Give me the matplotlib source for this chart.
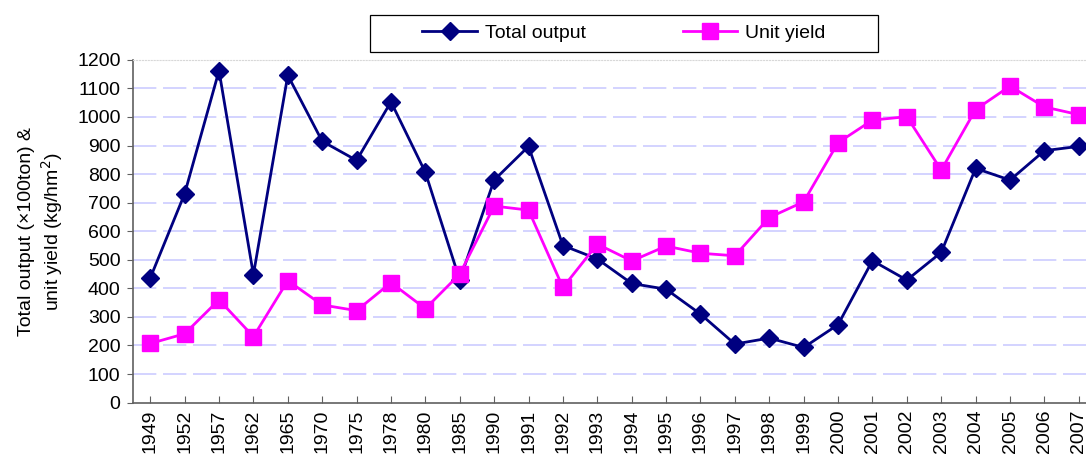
import matplotlib.pyplot as plt
import numpy as np
from matplotlib.patches import Rectangle

plt.rcParams["font.family"] = ["Liberation Sans", "DejaVu Sans"]

years = ["1949", "1952", "1957", "1962", "1965", "1970", "1975", "1978", "1980",
         "1985", "1990", "1991", "1992", "1993", "1994", "1995", "1996", "1997",
         "1998", "1999", "2000", "2001", "2002", "2003", "2004", "2005", "2006",
         "2007"]
total_output = [436, 731, 1162, 448, 1146, 915, 848, 1053, 806,
                429, 779, 897, 550, 503, 417, 397, 310, 205,
                226, 193, 273, 497, 429, 526, 820, 779, 882, 897]
unit_yield = [207, 241, 360, 231, 427, 342, 322, 420, 329,
              450, 688, 674, 403, 555, 496, 548, 523, 514,
              648, 703, 910, 989, 1001, 814, 1026, 1108, 1035, 1008]
y_ticks = list(range(0, 1201, 100))

fig = plt.figure(figsize=(10.86, 4.63), dpi=100)
ax = fig.add_axes([0.1225, 0.1304, 0.8867, 0.7404])

x = np.arange(len(years))

ax.plot(x, total_output, "-", color="#000080", linewidth=2,
        marker="D", markersize=9, markerfacecolor="#000080",
        markeredgecolor="#000080", label="Total output", zorder=3)
ax.plot(x, unit_yield, "-", color="#ff00ff", linewidth=2,
        marker="s", markersize=11, markerfacecolor="#ff00ff",
        markeredgecolor="#ff00ff", label="Unit yield", zorder=3)

ax.set_xlim(-0.5, len(years) - 0.5)
ax.set_ylim(0, 1200)
ax.set_yticks(y_ticks)
ax.set_xticks(x)
ax.set_xticklabels(years, rotation=90)

# dashed lavender gridlines
for v in y_ticks[1:-1]:
    ax.axhline(v, color="#ccccff", linewidth=1.2, dashes=(14, 4), zorder=1)

ax.tick_params(axis="y", direction="out", length=4, labelsize=14,
               color="#606060", pad=5)
ax.tick_params(axis="x", direction="in", length=5, labelsize=14,
               color="#606060", pad=5)

for s in ["left", "bottom"]:
    ax.spines[s].set_color("#606060")
    ax.spines[s].set_linewidth(1.2)
ax.spines["right"].set_visible(False)
ax.spines["top"].set_color("#d8d8d8")
ax.spines["top"].set_linestyle(":")

ax.set_ylabel("Total output (\u00d7100ton) &\nunit yield (kg/hm$^2$)",
              fontsize=14, multialignment="center")
ax.yaxis.set_label_coords(-0.071, 0.5)

# legend box drawn separately, entries centered inside
fig.patches.append(Rectangle((370 / 1086, 1 - 52 / 463), 508 / 1086, 37 / 463,
                             transform=fig.transFigure, fill=False,
                             edgecolor="black", linewidth=0.9))
leg = fig.legend(loc="center", ncol=2,
                 bbox_to_anchor=(624 / 1086, 1 - 33.5 / 463),
                 fontsize=14, frameon=False,
                 handlelength=2.8, handletextpad=0.4, borderaxespad=0,
                 borderpad=0, columnspacing=5.0)

plt.savefig("out.png", dpi=100)
